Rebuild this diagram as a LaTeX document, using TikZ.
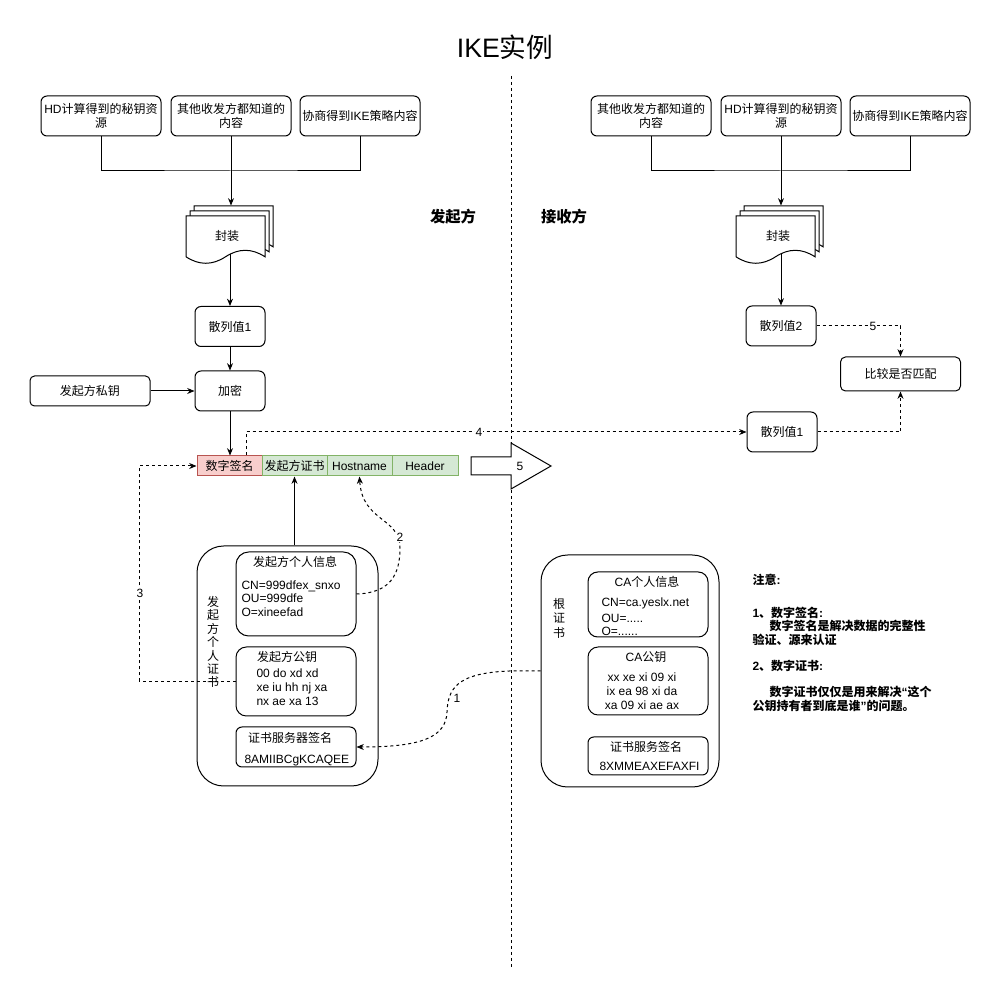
\documentclass[tikz,border=0pt]{standalone}
\usepackage{fontspec}
\setmainfont{Liberation Sans}
\newfontfamily\cjkfont{Noto Sans CJK SC}
\newfontfamily\latinfont{Liberation Sans}
\usetikzlibrary{arrows.meta}
\XeTeXinterchartokenstate=1
\newXeTeXintercharclass\CJKcls
\newcount\cjkc
\newcommand\cjkrange[2]{\cjkc=#1\relax\loop\XeTeXcharclass\cjkc=\CJKcls\relax\advance\cjkc by 1\relax\ifnum\cjkc<#2\relax\repeat}
\cjkrange{"3000}{"3040}
\cjkrange{"4E00}{"A000}
\cjkrange{"FF00}{"FFF0}
\XeTeXinterchartoks 0 \CJKcls = {\cjkfont}
\XeTeXinterchartoks 4095 \CJKcls = {\cjkfont}
\XeTeXinterchartoks \CJKcls 0 = {\latinfont}
\XeTeXinterchartoks \CJKcls 4095 = {\latinfont}
\definecolor{pinkf}{HTML}{F8CECC}
\definecolor{pinkd}{HTML}{B85450}
\definecolor{greenf}{HTML}{D5E8D4}
\definecolor{greend}{HTML}{82B366}
\newcommand\docpage[2]{\filldraw[fill=white] (#1,{#2+40.8}) -- (#1,#2) -- ({#1+79},#2) -- ({#1+79},{#2+40.8}) .. controls ({#1+65.83},{#2+32.16}) and ({#1+52.67},{#2+32.16}) .. ({#1+39.5},{#2+40.8}) .. controls ({#1+26.33},{#2+49.44}) and ({#1+13.17},{#2+49.44}) .. (#1,{#2+40.8}) -- cycle;}
\begin{document}
\begin{tikzpicture}[x=0.75pt,y=-0.75pt,line width=0.75pt,
  font=\fontsize{9}{10.5}\selectfont,
  box/.style={draw, rounded corners=4.5pt, fill=white, minimum width=90pt, minimum height=30pt, align=center, inner sep=1pt},
  hbox/.style={box, minimum width=52.5pt},
  cellp/.style={draw=pinkd, fill=pinkf, minimum width=48.75pt, minimum height=15pt, inner sep=0pt},
  cellg/.style={draw=greend, fill=greenf, minimum width=48.75pt, minimum height=15pt, inner sep=0pt},
  arr/.style={-{Stealth[length=5.5pt,width=4.5pt]}},
  dsh/.style={dash pattern=on 2.25pt off 2.25pt},
  lbl/.style={fill=white, inner sep=0.8pt},
  txt/.style={inner sep=0pt},
  tl/.style={inner sep=0pt, anchor=base west},
  note/.style={inner sep=0pt, anchor=west, font=\fontsize{9}{10.5}\selectfont\bfseries},
  ghost/.style={inner sep=0pt, minimum width=65.25pt, minimum height=42.75pt}
]
\fill[white] (0,0) rectangle (1001,998);
\useasboundingbox (0,0) rectangle (1001,998);

\node[font=\fontsize{20}{24}\selectfont] (title) at (505,47) {IKE实例};
\draw[dsh] (511,76) -- (511,968);
\node[font=\fontsize{11.5}{14}\selectfont\bfseries] (lsend) at (453,217) {发起方};
\node[font=\fontsize{11.5}{14}\selectfont\bfseries] (lrecv) at (564,217) {接收方};

% ---------- sender top ----------
\node[box] (tA) at (101,116) {HD计算得到的秘钥资\\源};
\node[box] (tB) at (231,116) {其他收发方都知道的\\内容};
\node[box] (tC) at (360,116) {协商得到IKE策略内容};
\coordinate (lj) at (231,171);
\node[ghost] (ldoc) at (229.5,234.5) {};
\draw (tA.south) |- (lj) -| (tC.south);
\draw[arr] (tB.south) -- (tB.south |- ldoc.north);
\node[hbox] (h1) at (230,326.5) {散列值1};
\draw[arr] (h1.north |- ldoc.center) -- (h1.north);
\docpage{194}{206}\docpage{190}{211}\docpage{186}{216}
\node (ldoct) at (227,236) {封装};

\node[hbox] (enc) at (230,391) {加密};
\node[box, minimum height=22.5pt, rounded corners=3.4pt] (pk) at (90,391) {发起方私钥};
\draw[arr] (h1) -- (enc);
\draw[arr] (pk) -- (enc);

\node[cellp] (c1) at (229.5,466) {数字签名};
\node[cellg] (c2) at (294.5,466) {发起方证书};
\node[cellg] (c3) at (359.5,466) {Hostname};
\node[cellg, minimum width=49.5pt] (c4) at (425,466) {Header};
\draw[arr] (enc.south) -- (enc.south |- c1.north);

\draw[fill=white] (471,457) -- (511,457) -- (511,443) -- (551,466) -- (511,489) -- (511,475) -- (471,475) -- cycle;
\node (a5) at (520,466) {5};

% ---------- receiver top ----------
\node[box] (rA) at (651,116) {其他收发方都知道的\\内容};
\node[box] (rB) at (781,116) {HD计算得到的秘钥资\\源};
\node[box] (rC) at (910,116) {协商得到IKE策略内容};
\coordinate (rj) at (781,171);
\node[ghost] (rdoc) at (779.5,234.5) {};
\draw (rA.south) |- (rj) -| (rC.south);
\draw[arr] (rB.south) -- (rB.south |- rdoc.north);
\node[hbox] (rh2) at (781,326) {散列值2};
\draw[arr] (rh2.north |- rdoc.center) -- (rh2.north);
\docpage{744}{206}\docpage{740}{211}\docpage{736}{216}
\node (rdoct) at (778,236) {封装};

\node[hbox] (rh1) at (782,432) {散列值1};
\node[box, minimum height=25.5pt, rounded corners=3.75pt] (cmp) at (900.5,374) {比较是否匹配};
\draw[dsh,arr] (rh2.east) -| (cmp.north);
\node[lbl] (l5) at (873,326) {5};
\draw[dsh,arr] (rh1.east) -| (cmp.south);
\draw[dsh,arr] ([xshift=12.4pt]c1.north) |- (rh1.west);
\node[lbl] (l4) at (479,432) {4};

% ---------- sender certificate ----------
\node[draw, rounded corners=20pt, minimum width=135.75pt, minimum height=180pt] (cert) at (287.5,666) {};
\node[box, minimum height=63pt, rounded corners=9.5pt] (i1) at (296,594) {};
\node[box, minimum height=51.75pt, rounded corners=7.8pt] (i2) at (296,681.5) {};
\node[box, minimum height=30pt] (i3) at (296,747) {};
\node[align=center, inner sep=0pt, font=\fontsize{9}{10.1}\selectfont] (cv) at (213,642) {发\\起\\方\\个\\人\\证\\书};
\node[txt] (i1t) at (295,562) {发起方个人信息};
\node[tl] (i1a) at (241,589.3) {CN=999dfex\_snxo};
\node[tl] (i1b) at (241,602.3) {OU=999dfe};
\node[tl] (i1c) at (241,616.3) {O=xineefad};
\node[txt] (i2t) at (287,657) {发起方公钥};
\node[tl] (i2a) at (256,677.3) {00 do xd xd};
\node[tl] (i2b) at (256,691.3) {xe iu hh nj xa};
\node[tl] (i2c) at (256,705.3) {nx ae xa 13};
\node[txt] (i3t) at (290,738) {证书服务器签名};
\node[tl] (i3a) at (244,763.3) {8AMIIBCgKCAQEE};

\draw[arr] (c2.south |- cert.north) -- (c2.south);
\draw[dsh,arr] (i1.east) .. controls (390,593) and (400,575) .. (400,548) .. controls (400,517) and (362,522) .. (c3.south);
\node[lbl] (l2) at (400,537) {2};
\draw[dsh,arr] (i2.west) -- ++(-96,0) |- (c1.west);
\node[lbl] (l3) at (140,593) {3};

% ---------- root certificate ----------
\node[draw, rounded corners=20pt, minimum width=133.5pt, minimum height=174pt] (root) at (630,671) {};
\node[align=center, inner sep=0pt, font=\fontsize{9}{10.9}\selectfont] (rv) at (559,618) {根\\证\\书};
\node[box, minimum height=48.75pt, rounded corners=7.3pt] (ca1) at (648,604.5) {};
\node[box, minimum height=51pt, rounded corners=7.6pt] (ca2) at (648,681) {};
\node[box, minimum height=28.5pt, rounded corners=4.3pt] (ca3) at (648,756) {};
\node[txt] (ca1t) at (647,582) {CA个人信息};
\node[tl] (ca1a) at (601,606.3) {CN=ca.yeslx.net};
\node[tl] (ca1b) at (601,622.3) {OU=.....};
\node[tl] (ca1c) at (601,635.3) {O=......};
\node[txt] (ca2t) at (646,657) {CA公钥};
\node[txt] (ca2a) at (642,677) {xx xe xi 09 xi};
\node[txt] (ca2b) at (642,691) {ix ea 98 xi da};
\node[txt] (ca2c) at (642,705) {xa 09 xi ae ax};
\node[txt] (ca3t) at (646,747) {证书服务签名};
\node[tl] (ca3a) at (599,771) {8XMMEAXEFAXFI};

\draw[dsh,arr] (root.west) -- ++(-31,0) .. controls (455,673) and (448,690) .. (447,712) .. controls (446,738) and (420,747) .. (i3.east);
\node (l1) at (457,698) {1};

% ---------- notes ----------
\node[note] (n1) at (752,580) {注意:};
\node[note] (n2) at (752,613) {1、数字签名:};
\node[note] (n3) at (769,626) {数字签名是解决数据的完整性};
\node[note] (n4) at (752,640) {验证、源来认证};
\node[note] (n5) at (752,666) {2、数字证书:};
\node[note] (n6) at (769,692) {数字证书仅仅是用来解决“这个};
\node[note] (n7) at (752,706) {公钥持有者到底是谁”的问题。};
\end{tikzpicture}
\end{document}
